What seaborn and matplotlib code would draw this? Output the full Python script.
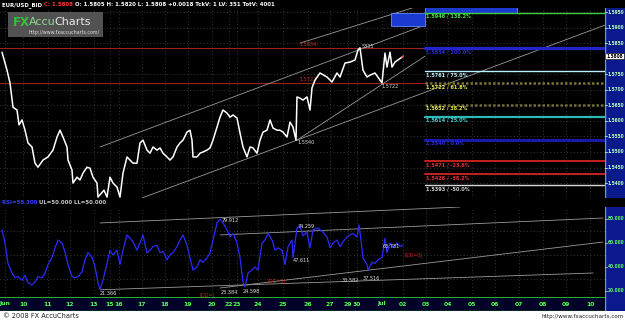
import numpy as np
import pandas as pd
import matplotlib
matplotlib.use("Agg")
import matplotlib.pyplot as plt
from matplotlib.patches import Rectangle
import seaborn as sns

# ---------------- data ----------------
price_x = [2, 7, 10, 13, 17, 19, 22, 25, 28, 32, 35, 38, 43, 48, 53, 57, 60, 63, 67, 68,
           72, 73, 77, 80, 83, 87, 90, 93, 97, 98, 104, 107, 110, 113, 117, 120, 123, 127, 130, 133,
           137, 140, 143, 147, 150, 153, 157, 160, 163, 167, 170, 173, 177, 180, 183, 187, 190, 192, 193, 197,
           200, 203, 207, 210, 213, 217, 220, 223, 227, 230, 233, 237, 240, 243, 247, 250, 253, 257, 260, 263,
           267, 270, 273, 277, 280, 283, 287, 290, 293, 296, 297, 300, 303, 307, 310, 312, 315, 320, 327, 332,
           337, 340, 345, 350, 355, 358, 360, 363, 367, 370, 375, 380, 382, 385, 387, 390, 392, 395, 398, 402, 403]
price_y = [1.5821, 1.5763, 1.5722, 1.5644, 1.5635, 1.5587, 1.5603, 1.5570, 1.5529, 1.5516, 1.5464, 1.5451, 1.5474, 1.5484, 1.5506, 1.5548, 1.5570, 1.5548, 1.5516, 1.5474,
           1.5442, 1.5400, 1.5419, 1.5410, 1.5432, 1.5451, 1.5448, 1.5419, 1.5400, 1.5355, 1.5377, 1.5355, 1.5419, 1.5400, 1.5387, 1.5355, 1.5432, 1.5484, 1.5474, 1.5464,
           1.5464, 1.5529, 1.5538, 1.5506, 1.5496, 1.5516, 1.5506, 1.5513, 1.5496, 1.5484, 1.5474, 1.5484, 1.5516, 1.5529, 1.5538, 1.5564, 1.5570, 1.5538, 1.5484, 1.5484,
           1.5496, 1.5500, 1.5506, 1.5513, 1.5538, 1.5580, 1.5612, 1.5635, 1.5625, 1.5612, 1.5619, 1.5609, 1.5561, 1.5516, 1.5484, 1.5516, 1.5513, 1.5496, 1.5538, 1.5564,
           1.5570, 1.5603, 1.5577, 1.5570, 1.5570, 1.5564, 1.5548, 1.5596, 1.5580, 1.5538, 1.5677, 1.5673, 1.5667, 1.5677, 1.5635, 1.5706, 1.5731, 1.5754, 1.5741, 1.5725,
           1.5754, 1.5741, 1.5786, 1.5789, 1.5796, 1.5828, 1.5835, 1.5763, 1.5741, 1.5747, 1.5754, 1.5731, 1.5722, 1.5818, 1.5773, 1.5821, 1.5773, 1.5789, 1.5796, 1.5805, 1.5808]

rsi_x = [2, 5, 8, 12, 15, 18, 22, 25, 28, 32, 35, 38, 42, 45, 48, 52, 55, 58, 62, 65,
         68, 72, 75, 78, 82, 85, 88, 92, 95, 98, 100, 103, 107, 110, 113, 117, 120, 123, 127, 130,
         133, 137, 140, 143, 147, 150, 153, 157, 160, 163, 167, 170, 173, 177, 180, 183, 187, 190, 193, 197,
         200, 203, 207, 210, 213, 217, 220, 223, 227, 230, 233, 237, 240, 243, 245, 248, 252, 255, 258, 262,
         265, 268, 272, 275, 278, 282, 285, 288, 292, 293, 297, 300, 303, 307, 310, 313, 318, 323, 327, 330,
         333, 337, 340, 343, 347, 350, 353, 357, 359, 361, 363, 367, 368, 372, 375, 378, 382, 385, 387, 390,
         393, 397, 400, 403]
rsi_y = [70.8, 60.0, 43.0, 35.0, 31.0, 32.0, 29.0, 33.0, 27.0, 25.0, 27.5, 32.0, 31.0, 35.0, 42.0, 48.0, 56.0, 62.5, 60.0, 52.5,
         42.0, 32.0, 31.0, 32.0, 36.0, 46.0, 52.0, 48.0, 40.0, 27.0, 21.4, 29.0, 43.0, 54.0, 50.0, 54.0, 42.0, 54.0, 66.7, 64.0,
         61.0, 54.0, 60.0, 66.7, 51.7, 54.0, 57.0, 58.0, 52.0, 53.0, 46.0, 50.0, 52.0, 57.0, 62.5, 66.7, 58.0, 47.5, 37.5, 40.0,
         46.0, 44.0, 47.5, 51.7, 62.5, 76.7, 79.9, 76.7, 71.0, 65.0, 68.0, 60.0, 48.0, 27.0, 23.4, 35.0, 37.5, 40.0, 37.5, 60.0,
         62.5, 68.0, 62.5, 54.0, 56.0, 54.0, 42.0, 57.0, 62.5, 47.6, 72.5, 74.3, 66.0, 69.0, 56.0, 71.0, 72.5, 69.0, 65.0, 56.0,
         60.0, 62.5, 57.0, 61.0, 65.0, 66.7, 68.0, 65.0, 75.0, 62.5, 47.5, 42.0, 37.5, 44.0, 43.0, 46.0, 48.0, 63.8, 52.0, 60.0,
         56.0, 60.0, 57.0, 58.3]

day_labels = ["Jun", "10", "11", "12", "13", "15", "16", "17", "18", "19", "20", "22", "23", "24", "25",
              "26", "27", "29", "30", "Jul", "02", "03", "04", "05", "06", "07", "08", "09", "10"]
day_pos = [5, 23, 48, 70, 94, 110, 119, 142, 165, 188, 212, 229, 237, 258, 283,
           308, 330, 348, 357, 382, 403, 426, 448, 472, 495, 519, 543, 566, 590]

price_ticks = [1.5400, 1.5450, 1.5500, 1.5550, 1.5600, 1.5650, 1.5700, 1.5750, 1.5850, 1.5900, 1.5950]
rsi_ticks = [20, 40, 60, 80]
rsi_grid = [30, 50, 70]

fib_prices = [1.5948, 1.5834, 1.5761, 1.5722, 1.5652, 1.5614, 1.5540, 1.5471, 1.5428, 1.5393]
fib_pcts = ["138.2%", "100.0%", "75.0%", "61.8%", "38.2%", "25.0%", "0.0%", "-23.6%", "-38.2%", "-50.0%"]
fib_colors = ["#3ccf3c", "#2424c8", "#bff0ff", "#7a7038", "#6e6e38", "#2fb8b8", "#1a1aa8", "#c82020", "#c82020", "#d8d8d8"]
fib_text_colors = ["#4de04d", "#2a2ad0", "#bff0ff", "#e8e850", "#e8e850", "#40d0d0", "#2a2ad0", "#e03030", "#e03030", "#d0d0d0"]
fib_widths = [1.0, 2.4, 1.0, 1.8, 1.8, 1.6, 2.2, 1.4, 1.4, 1.0]
fib_styles = ["-", "-", "-", (0, (1, 0.8)), (0, (1, 0.8)), "-", "-", "-", "-", "-"]

ref_levels = [1.5834, 1.5722]
ref_labels = ["1.5834", "1.5722"]

# trend lines: (x0, y0, x1, y1) in data units
price_trend = [(100, 1.5516, 420, 1.5902), (300, 1.5850, 415, 1.5966),
               (142, 1.5352, 605, 1.5908), (297, 1.5538, 425, 1.5808)]
rsi_trend = [(100, 76.7, 460, 90.0), (220, 66.7, 603, 80.8),
             (220, 22.5, 603, 60.8), (100, 21.0, 593, 35.0)]

price_notes = [(362, 1.5840, "5835"), (382, 1.5712, "1.5722"), (297, 1.5530, "1.5540")]
rsi_notes = [(100, 18.0, "21.366", "#e0e0e0"), (222, 79.0, "79.912", "#e0e0e0"),
             (221, 18.5, "23.384", "#e0e0e0"), (243, 19.5, "24.598", "#e0e0e0"),
             (200, 16.5, "(DD=)", "#d02020"), (268, 28.0, "(DD=2)", "#d02020"),
             (293, 45.0, "47.611", "#e0e0e0"), (298, 74.0, "74.259", "#e0e0e0"),
             (342, 29.0, "33.582", "#e0e0e0"), (363, 30.5, "37.516", "#e0e0e0"),
             (383, 57.0, "63.781", "#e0e0e0"), (405, 50.0, "(DD=3)", "#d02020")]

header_parts = [("EUR/USD_BID ", "white"), ("C: 1.5808 ", "#ff3030"),
                ("O: 1.5805 H: 1.5820 L: 1.5808 +0.0018 TckV: 1 LV: 351 TotV: 4001", "white")]

# ---------------- style ----------------
sns.set_theme(style="dark")
plt.rcParams["font.family"] = ["DejaVu Sans"]

W, H = 625, 320
fig = plt.figure(figsize=(6.25, 3.2), dpi=100, facecolor="black")


def px_axes(x0, y0, x1, y1):
    return fig.add_axes([x0 / W, 1 - y1 / H, (x1 - x0) / W, (y1 - y0) / H])


grid_kw = dict(color="#4a4a4a", lw=0.6, ls=(0, (1, 3)), zorder=0)
BLUE = "#0a1a8c"
SMALL = dict(fontsize=4.0, fontstretch="condensed")

# ---------------- price panel ----------------
ax = px_axes(0, 8, 605, 198)
ax.set_facecolor("black")
ax.set_xlim(0, 605)
ax.set_ylim(1.5352, 1.5963)
for p in price_ticks:
    ax.axhline(p, **grid_kw)
for d in day_pos:
    ax.axvline(d, **grid_kw)

for lv, lb in zip(ref_levels, ref_labels):
    ax.plot([0, 425], [lv, lv], color="#a02020", lw=0.8, zorder=1)
    ax.text(300, lv + 0.0003, lb, color="#d03030", va="bottom", ha="left", **SMALL)

for x0, y0, x1, y1 in price_trend:
    ax.plot([x0, x1], [y0, y1], color="#9a9a9a", lw=0.6, zorder=1)

ax.add_patch(Rectangle((425, 1.5948), 92, 0.0030, facecolor="#1c3ad0", edgecolor="#6a8cff", lw=0.6, zorder=2))
ax.add_patch(Rectangle((391, 1.5906), 34, 0.0042, facecolor="#1c3ad0", edgecolor="#6a8cff", lw=0.6, zorder=2))

for p, pc, c, tc, w, s in zip(fib_prices, fib_pcts, fib_colors, fib_text_colors, fib_widths, fib_styles):
    ax.plot([425, 605], [p, p], color=c, lw=w, ls=s, zorder=2)
    ax.text(426, p - 0.0004, f"{p:.4f} / {pc}", color=tc, fontweight="bold",
            va="top", ha="left", zorder=3, **SMALL)

df_p = pd.DataFrame({"x": price_x, "price": price_y})
sns.lineplot(data=df_p, x="x", y="price", ax=ax, color="white", lw=1.1, zorder=4)
ax.plot(price_x[-2:], price_y[-2:], color="#ff3030", lw=1.0, zorder=5)

for x, y, t in price_notes:
    ax.text(x, y, t, color="#d8d8d8", ha="left", va="center", zorder=5, **SMALL)

ax.set_xticks([]); ax.set_yticks([])
ax.set_xlabel(""); ax.set_ylabel("")
for sp in ax.spines.values():
    sp.set_visible(False)

# logo
ax.add_patch(Rectangle((0.013, 0.85), 0.157, 0.13, transform=ax.transAxes,
                       facecolor="#5c5c5c", edgecolor="none", alpha=0.9, zorder=6))
ax.text(0.021, 0.925, "FX", transform=ax.transAxes, color="#35c035", fontsize=8.5,
        fontweight="bold", va="center", ha="left", zorder=7)
ax.text(0.047, 0.925, "Accu", transform=ax.transAxes, color="#8fd88f", fontsize=8,
        va="center", ha="left", zorder=7)
ax.text(0.090, 0.925, "Charts", transform=ax.transAxes, color="#e8e8e8", fontsize=8,
        va="center", ha="left", zorder=7)
ax.text(0.047, 0.87, "http://www.fxaccucharts.com/", transform=ax.transAxes, color="#e0e0e0",
        fontsize=3.4, va="center", ha="left", zorder=7)

# price right column
axc = px_axes(605, 8, 625, 198)
axc.set_facecolor(BLUE)
axc.set_ylim(ax.get_ylim()); axc.set_xlim(0, 1)
axc.set_xticks([]); axc.set_yticks([])
for sp in axc.spines.values():
    sp.set_visible(False)
axc.axvline(0.02, color="#7090ff", lw=1.0)
for p in price_ticks:
    axc.plot([0, 0.1], [p, p], color="#b0ffb0", lw=0.6)
    axc.text(0.12, p, f"{p:.4f}", color="#b8ffc0", fontsize=3.4, fontweight="bold",
             fontstretch="condensed", va="center", ha="left")
axc.text(0.06, price_y[-1], f"{price_y[-1]:.4f}", color="black", fontsize=3.4, fontweight="bold",
         fontstretch="condensed", va="center", ha="left",
         bbox=dict(facecolor="white", edgecolor="black", pad=0.5, lw=0.4))

# header (chained segments)
prev = None
for txt, col in header_parts:
    if prev is None:
        prev = fig.text(2 / W, 1 - 5 / H, txt, color=col, fontsize=3.9, fontweight="bold",
                        va="center", ha="left")
    else:
        prev = fig.axes[0].annotate(txt, xy=(1, 0.5), xycoords=prev, color=col, fontsize=3.9,
                                    fontweight="bold", va="center", ha="left", annotation_clip=False)

# ---------------- RSI panel ----------------
t1 = fig.text(2 / W, 1 - 203 / H, f"RSI={rsi_y[-1]:.3f} ", color="#3040ff", fontsize=3.9,
              fontweight="bold", va="center")
fig.axes[0].annotate("UL=50.000 LL=50.000", xy=(1, 0.5), xycoords=t1, color="#c8c8c8", fontsize=3.9,
                     fontweight="bold", va="center", ha="left", annotation_clip=False)

ar = px_axes(0, 207, 605, 297)
ar.set_facecolor("black")
ar.set_xlim(0, 605)
ar.set_ylim(15, 90)
for v in rsi_grid:
    ar.axhline(v, **grid_kw)
for d in day_pos:
    ar.axvline(d, **grid_kw)
for x0, y0, x1, y1 in rsi_trend:
    ar.plot([x0, x1], [y0, y1], color="#9a9a9a", lw=0.6, zorder=1)
df_r = pd.DataFrame({"x": rsi_x, "rsi": rsi_y})
sns.lineplot(data=df_r, x="x", y="rsi", ax=ar, color="#2a2aff", lw=0.9, zorder=3)
for x, y, t, c in rsi_notes:
    ar.text(x, y, t, color=c, ha="left", va="center", zorder=4, **SMALL)
ar.set_xticks([]); ar.set_yticks([])
ar.set_xlabel(""); ar.set_ylabel("")
for sp in ar.spines.values():
    sp.set_visible(False)

arc = px_axes(605, 207, 625, 312)
arc.set_facecolor(BLUE)
arc.set_xlim(0, 1)
arc.set_ylim(2.5, 90)
arc.set_xticks([]); arc.set_yticks([])
for sp in arc.spines.values():
    sp.set_visible(False)
arc.axvline(0.02, color="#7090ff", lw=1.0)
for v in rsi_ticks:
    arc.plot([0, 0.1], [v, v], color="#70ff70", lw=0.6)
    arc.text(0.12, v, f"{v:.3f}", color="#60ff60", fontsize=3.4, fontweight="bold",
             fontstretch="condensed", va="center", ha="left")

# ---------------- x bar ----------------
axx = px_axes(0, 297, 605, 311)
axx.set_facecolor("#000028")
axx.set_xlim(0, 605); axx.set_ylim(0, 1)
axx.set_xticks([]); axx.set_yticks([])
for sp in axx.spines.values():
    sp.set_visible(False)
axx.axhline(0.97, color="#30d030", lw=1.2)
axx.axhline(0.03, color="#30d030", lw=1.0)
for d, lb in zip(day_pos, day_labels):
    axx.text(d, 0.5, lb, color="#50ff50", fontsize=4.4, fontweight="bold", ha="center", va="center")

# ---------------- footer ----------------
fig.patches.append(Rectangle((0, 0), 1, 9 / H, transform=fig.transFigure, facecolor="white",
                             edgecolor="none", zorder=0))
fig.text(3 / W, 4.5 / H, "© 2008 FX AccuCharts", color="#202020", fontsize=4.8, va="center", ha="left")
fig.text(624 / W, 3.5 / H, "http://www.fxaccucharts.com", color="#202020", fontsize=4.1, va="center", ha="right")

fig.savefig("out.png", dpi=100, facecolor="black")
